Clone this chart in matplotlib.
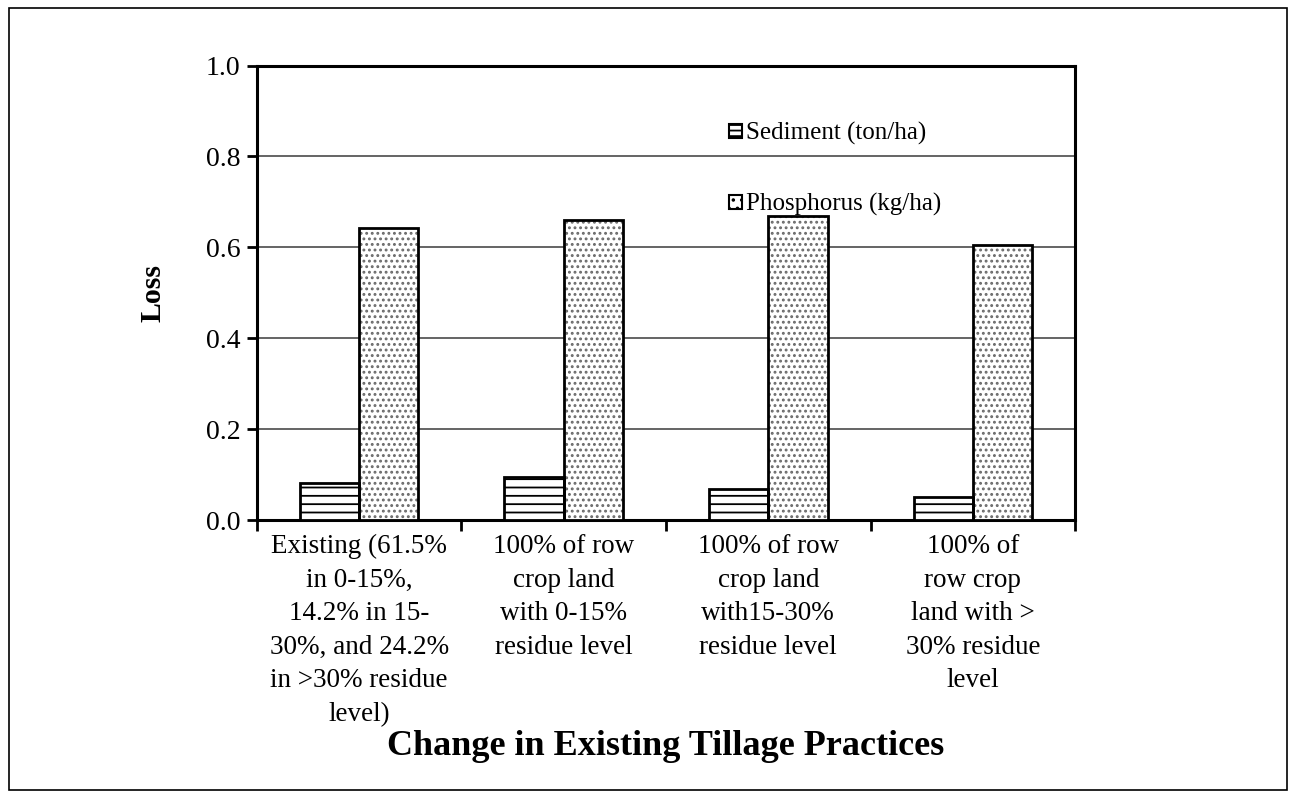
import numpy as np
import matplotlib
matplotlib.use("Agg")
import matplotlib.pyplot as plt
from matplotlib.patches import Rectangle, Patch

plt.rcParams['font.family'] = ['Liberation Serif', 'DejaVu Serif']
plt.rcParams['hatch.linewidth'] = 1.3

# loss per tillage scenario
categories = [
    "Existing (61.5%\nin 0-15%,\n14.2% in 15-\n30%, and 24.2%\nin >30% residue\nlevel)",
    "100% of row\ncrop land\nwith 0-15%\nresidue level",
    "100% of row\ncrop land\nwith15-30%\nresidue level",
    "100% of\nrow crop\nland with >\n30% residue\nlevel",
]
sediment = [0.081, 0.094, 0.069, 0.050]      # ton/ha
phosphorus = [0.642, 0.660, 0.670, 0.605]    # kg/ha
yticks = [0.0, 0.2, 0.4, 0.6, 0.8, 1.0]

fs = 19.5
fig = plt.figure(figsize=(12.97, 7.99), dpi=100)
ax = fig.add_axes([0.198, 0.349, 0.631, 0.569])

x = np.arange(len(categories))
w = 0.29

# sediment: horizontal lines
ax.bar(x - w / 2, sediment, w, color='white', edgecolor='black', hatch='--',
       linewidth=0, zorder=3)
ax.bar(x - w / 2, sediment, w, fill=False, edgecolor='black', linewidth=2, zorder=4)
# phosphorus: grey dots, black outline drawn on top
ax.bar(x + w / 2, phosphorus, w, color='white', edgecolor='#6a6a6a', hatch='...',
       linewidth=0, zorder=3)
ax.bar(x + w / 2, phosphorus, w, fill=False, edgecolor='black', linewidth=2, zorder=4)

ax.set_xlim(-0.5, len(categories) - 0.5)
ax.set_ylim(0, 1.0)
ax.set_yticks(yticks)
ax.set_yticklabels([f"{v:.1f}" for v in yticks], fontsize=20)
ax.yaxis.grid(True, color='#4a4a4a', linewidth=1.2, zorder=1)
ax.set_axisbelow(True)

# category boundaries get tick marks, centres get the labels
ax.set_xticks(np.arange(-0.5, len(categories), 1.0))
ax.set_xticklabels([])
ax.set_xticks(x, minor=True)
ax.set_xticklabels(categories, minor=True, fontsize=fs, linespacing=1.45)
ax.tick_params(axis='x', which='major', direction='out', length=8, width=2)
ax.tick_params(axis='x', which='minor', length=0, pad=10)
ax.tick_params(axis='y', direction='out', length=7, width=2, pad=5)

for s in ax.spines.values():
    s.set_linewidth(2.2)

ax.set_ylabel("Loss", fontsize=21.5, fontweight='bold', labelpad=28)
fig.text(0.5135, 0.066, "Change in Existing Tillage Practices", fontsize=26,
         fontweight='bold', ha='center', va='center')

handles = [
    Patch(facecolor='white', edgecolor='black', hatch='---', linewidth=1.5),
    Patch(facecolor='white', edgecolor='black', hatch='..', linewidth=1.5),
]
ax.legend(handles, ["Sediment (ton/ha)", "Phosphorus (kg/ha)"], frameon=False,
          fontsize=18, loc='upper left', bbox_to_anchor=(0.565, 0.897),
          handlelength=0.5, handleheight=0.5, handletextpad=0.18,
          labelspacing=1.9, borderaxespad=0)

# outer frame around the whole chart
fig.patches.append(Rectangle((0.007, 0.011), 0.985, 0.979, transform=fig.transFigure,
                             fill=False, edgecolor='black', linewidth=1.2))

fig.savefig("out.png", dpi=100)
